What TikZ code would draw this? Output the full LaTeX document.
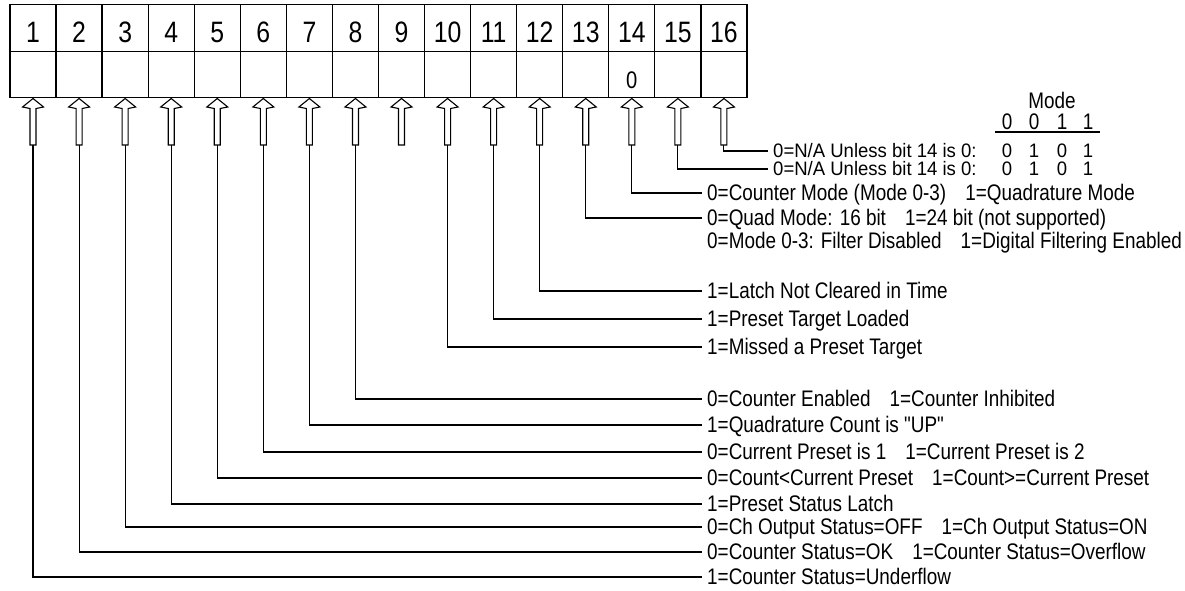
\documentclass[tikz,border=0pt]{standalone}
\usepackage{fontspec}
\setmainfont{Liberation Sans}[FakeStretch=0.84, Ligatures=TeXOff]
\newfontfamily\nafont{Liberation Sans}[FakeStretch=0.95, Ligatures=TeXOff]
\newcommand{\lgap}{\hspace{0.85em}}
\begin{document}
\begin{tikzpicture}[x=1pt,y=-1pt,
  cell/.style={draw, line width=1.3pt, minimum width=46.06pt, minimum height=46.5pt, inner sep=0pt, anchor=center},
  num/.style={font=\fontsize{29.5}{30}\selectfont, text height=29pt, text depth=0pt},
  lab/.style={anchor=west, inner xsep=5pt, inner ysep=0pt, text height=15pt, text depth=0pt, font=\fontsize{22.5}{24}\selectfont},
  nalab/.style={anchor=west, inner xsep=5pt, inner ysep=0pt, text height=13pt, text depth=0pt, font=\nafont\fontsize{19.5}{21}\selectfont},
  dig/.style={anchor=center, inner sep=0pt, text height=15pt, text depth=0pt, font=\fontsize{22.5}{24}\selectfont},
  sdig/.style={anchor=center, inner sep=0pt, text height=13pt, text depth=0pt, font=\nafont\fontsize{19.5}{21}\selectfont},
  conn/.style={line width=1.1pt},
  arr/.style={draw, line width=1.1pt, fill=white, line join=miter}
]
\useasboundingbox (0,0) rectangle (1185,590);
\fill[white] (0,0) rectangle (1185,590);

% register table
\foreach \i in {1,...,16}{
  \pgfmathsetmacro\cx{10+(\i-0.5)*46.06}
  \node[cell, num] (t\i) at (\cx,28) {\i};
  \node[cell] (c\i) at (\cx,74.5) {};
}
\node[inner sep=0pt, font=\fontsize{24}{25}\selectfont, text height=28pt, text depth=0pt] (z14) at (c14) {0};

% hollow arrows
\foreach \i in {1,...,16}{
  \pgfmathsetmacro\cx{10+(\i-0.5)*46.06}
  \draw[arr] (\cx,98.5) -- ++(10.5,8.5) -- ++(-7.5,1.5) -- (\cx+3,145) -- (\cx-3,145) -- (\cx-3,108.5) -- (\cx-10.5,107) -- cycle;
  \coordinate (b\i) at (\cx,145);
}

% labels
\node[nalab] (l16) at (768,151) {0=N/A Unless bit 14 is 0:};
\node[nalab] (l15) at (768,169) {0=N/A Unless bit 14 is 0:};
\node[lab] (l14) at (702,193) {0=Counter Mode (Mode 0-3)\lgap 1=Quadrature Mode};
\node[lab] (l13) at (702,218) {0=Quad Mode: 16 bit\lgap 1=24 bit (not supported)};
\node[lab] (l13b) at (702,241) {0=Mode 0-3: Filter Disabled\lgap 1=Digital Filtering Enabled};
\node[lab] (l12) at (702,291) {1=Latch Not Cleared in Time};
\node[lab] (l11) at (702,319) {1=Preset Target Loaded};
\node[lab] (l10) at (702,347) {1=Missed a Preset Target};
\node[lab] (l8) at (702,399) {0=Counter Enabled\lgap 1=Counter Inhibited};
\node[lab] (l7) at (702,425) {1=Quadrature Count is "UP"};
\node[lab] (l6) at (702,452) {0=Current Preset is 1\lgap 1=Current Preset is 2};
\node[lab] (l5) at (702,478) {0=Count<Current Preset\lgap 1=Count>=Current Preset};
\node[lab] (l4) at (702,504) {1=Preset Status Latch};
\node[lab] (l3) at (702,527) {0=Ch Output Status=OFF\lgap 1=Ch Output Status=ON};
\node[lab] (l2) at (702,552) {0=Counter Status=OK\lgap 1=Counter Status=Overflow};
\node[lab] (l1) at (702,577) {1=Counter Status=Underflow};

% connectors
\foreach \i in {1,...,8,10,11,12,13,14,15,16}{
  \draw[conn] (b\i) |- (l\i.west);
}

% mode table
\node[dig] (mode) at (1052,101) {Mode};
\node[dig] (h1) at (1007,122) {0};
\node[dig] (h2) at (1034,122) {0};
\node[dig] (h3) at (1062,122) {1};
\node[dig] (h4) at (1088,122) {1};
\coordinate (ula) at (995,132);
\coordinate (ulb) at (1100,132);
\draw[conn] (ula) -- (ulb);
\node[sdig] (p1) at (1007,151) {0};
\node[sdig] (p2) at (1034,151) {1};
\node[sdig] (p3) at (1062,151) {0};
\node[sdig] (p4) at (1088,151) {1};
\node[sdig] (q1) at (1007,169) {0};
\node[sdig] (q2) at (1034,169) {1};
\node[sdig] (q3) at (1062,169) {0};
\node[sdig] (q4) at (1088,169) {1};
\end{tikzpicture}
\end{document}
